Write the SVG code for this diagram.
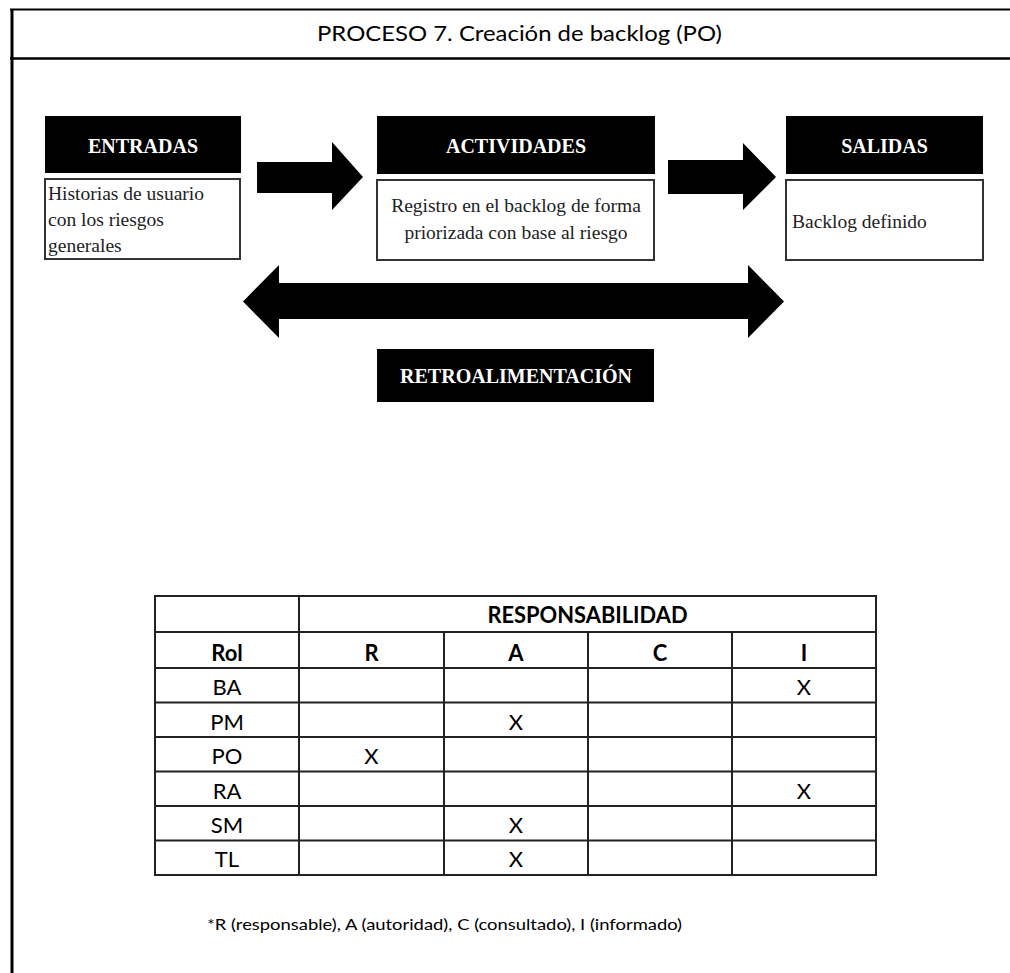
<svg xmlns="http://www.w3.org/2000/svg" width="1010" height="973" viewBox="0 0 1010 973">
  <style>
    .frame { stroke: #000; fill: none; }
    .hdr { fill: #000; }
    .hdr-t { font-family: "Liberation Serif", "Times New Roman", serif; font-weight: bold; font-size: 20px; fill: #fff; text-anchor: middle; }
    .body-box { fill: #fff; stroke: #333; stroke-width: 2; }
    .body-t { font-family: "Liberation Serif", "Times New Roman", serif; font-size: 19.5px; fill: #222; }
    .arrow { fill: #000; }
    .grid { stroke: #222; stroke-width: 2; fill: none; }
    .tb { font-family: Lato, "Open Sans", sans-serif; font-size: 22px; fill: #000; text-anchor: middle; }
    .tb-b { font-weight: bold; }
    .title { font-family: Lato, "Open Sans", sans-serif; font-size: 22px; fill: #000; text-anchor: middle; }
    .note { font-family: Lato, "Open Sans", sans-serif; font-size: 15px; fill: #000; }
  </style>

  <rect width="1010" height="973" fill="#fff"/>

  <!-- page frame and title band -->
  <g id="frame">
    <line class="frame" x1="10" y1="9.5" x2="1010" y2="9.5" stroke-width="2"/>
    <line class="frame" x1="12" y1="9" x2="12" y2="973" stroke-width="3"/>
    <line class="frame" x1="10" y1="58.5" x2="1010" y2="58.5" stroke-width="2.5"/>
    <text class="title" x="519.5" y="41" textLength="405" lengthAdjust="spacingAndGlyphs">PROCESO 7. Creación de backlog (PO)</text>
  </g>

  <!-- process blocks -->
  <g id="entradas">
    <rect class="hdr" x="45" y="116" width="196" height="57"/>
    <text class="hdr-t" x="143" y="153">ENTRADAS</text>
    <rect class="body-box" x="45" y="179" width="195" height="80"/>
    <text class="body-t" x="48" y="200">Historias de usuario</text>
    <text class="body-t" x="48" y="226">con los riesgos</text>
    <text class="body-t" x="48" y="252">generales</text>
  </g>

  <g id="actividades">
    <rect class="hdr" x="377" y="116" width="278" height="58"/>
    <text class="hdr-t" x="516" y="153">ACTIVIDADES</text>
    <rect class="body-box" x="377" y="180" width="277" height="80"/>
    <text class="body-t" x="516" y="212" text-anchor="middle">Registro en el backlog de forma</text>
    <text class="body-t" x="516" y="239" text-anchor="middle">priorizada con base al riesgo</text>
  </g>

  <g id="salidas">
    <rect class="hdr" x="786" y="116" width="197" height="58"/>
    <text class="hdr-t" x="884.5" y="153">SALIDAS</text>
    <rect class="body-box" x="786" y="180" width="197" height="80"/>
    <text class="body-t" x="792" y="228">Backlog definido</text>
  </g>

  <g id="retroalimentacion">
    <rect class="hdr" x="377" y="349" width="277" height="53"/>
    <text class="hdr-t" x="516" y="383">RETROALIMENTACIÓN</text>
  </g>

  <!-- block arrows between stages -->
  <g id="connectors">
    <polygon class="arrow" points="257,162 332,162 332,142 363,177 332,210 332,193 257,193"/>
    <polygon class="arrow" points="668,160 743,160 743,143 776,177 743,210 743,194 668,194"/>
    <polygon class="arrow" points="243,301.5 279,265 279,283 748,283 748,265 784,301.5 748,338 748,319 279,319 279,338"/>
  </g>

  <!-- RACI table -->
  <g id="tabla-raci">
    <rect class="grid" x="155" y="596" width="721" height="279"/>
    <line class="grid" x1="299" y1="596" x2="299" y2="875"/>
    <line class="grid" x1="444" y1="632" x2="444" y2="875"/>
    <line class="grid" x1="588" y1="632" x2="588" y2="875"/>
    <line class="grid" x1="732" y1="632" x2="732" y2="875"/>
    <line class="grid" x1="155" y1="632" x2="876" y2="632"/>
    <line class="grid" x1="155" y1="668" x2="876" y2="668"/>
    <line class="grid" x1="155" y1="702.5" x2="876" y2="702.5"/>
    <line class="grid" x1="155" y1="737" x2="876" y2="737"/>
    <line class="grid" x1="155" y1="771.5" x2="876" y2="771.5"/>
    <line class="grid" x1="155" y1="806" x2="876" y2="806"/>
    <line class="grid" x1="155" y1="840.5" x2="876" y2="840.5"/>

    <text class="tb tb-b" x="587.5" y="623" textLength="200" lengthAdjust="spacingAndGlyphs">RESPONSABILIDAD</text>
    <text class="tb tb-b" x="227" y="661">Rol</text>
    <text class="tb tb-b" x="371.5" y="661">R</text>
    <text class="tb tb-b" x="516" y="661">A</text>
    <text class="tb tb-b" x="660" y="661">C</text>
    <text class="tb tb-b" x="804" y="661">I</text>

    <text class="tb" x="227" y="695">BA</text>
    <text class="tb" x="804" y="695">X</text>
    <text class="tb" x="227" y="729.5">PM</text>
    <text class="tb" x="516" y="729.5">X</text>
    <text class="tb" x="227" y="764">PO</text>
    <text class="tb" x="371.5" y="764">X</text>
    <text class="tb" x="227" y="798.5">RA</text>
    <text class="tb" x="804" y="798.5">X</text>
    <text class="tb" x="227" y="833">SM</text>
    <text class="tb" x="516" y="833">X</text>
    <text class="tb" x="227" y="867">TL</text>
    <text class="tb" x="516" y="867">X</text>
  </g>

  <text class="note" x="207" y="930" textLength="475" lengthAdjust="spacingAndGlyphs">*R (responsable), A (autoridad), C (consultado), I (informado)</text>
</svg>
